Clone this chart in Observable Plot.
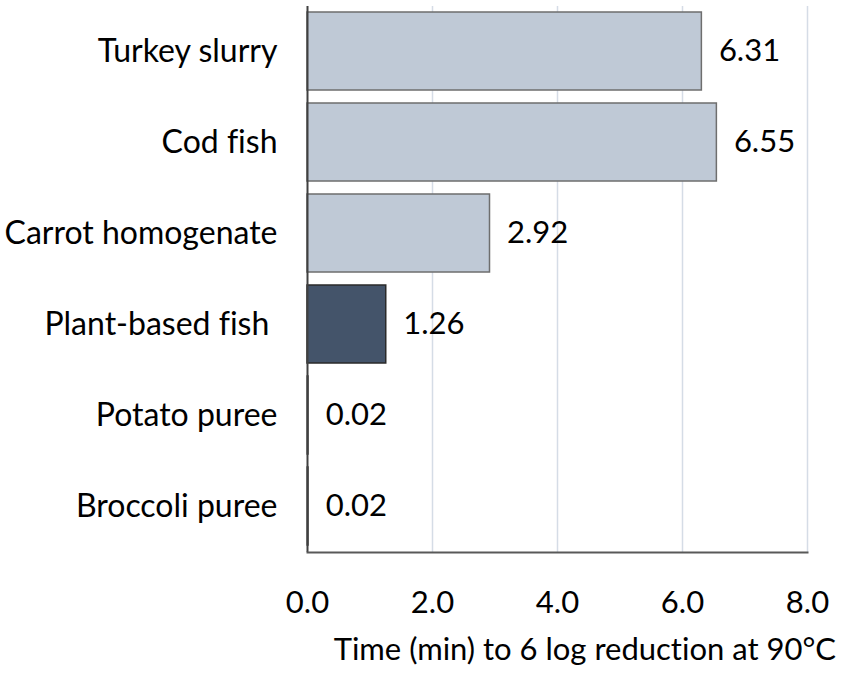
<!DOCTYPE html>
<html><head><meta charset="utf-8">
<script src="https://cdn.jsdelivr.net/npm/d3@7"></script>
<script src="https://cdn.jsdelivr.net/npm/@observablehq/plot@0.6"></script>
<style>
body{margin:0;background:#fff;font-family:Lato,sans-serif;font-variant-ligatures:none}
svg, svg text{font-variant-ligatures:none}
#title{font-family:Lato,sans-serif;font-size:31px;color:#000;text-align:right;padding-right:15px;line-height:52px;width:851px;box-sizing:border-box;margin:0;font-variant-ligatures:none}
</style>
</head><body><div id="chart"></div><div id="title"></div>
<script>
const categories = ["Turkey slurry","Cod fish","Carrot homogenate","Plant-based fish\u00a0","Potato puree","Broccoli puree"];
const values = [6.31,6.55,2.92,1.26,0.02,0.02];
const highlight = [false,false,false,true,false,false];
const xTicks = [0,2,4,6,8];
const axisTitle = "Time (min) to 6 log reduction at 90°C";
const data = categories.map((c,i)=>({category:c,value:values[i],highlight:highlight[i]}));
const plot = Plot.plot({
 width:851, height:622, marginLeft:307, marginRight:44, marginTop:6, marginBottom:70,
 style:{fontFamily:"Lato, sans-serif", fontSize:"31px", color:"#000", background:"#fff"},
 x:{domain:[0,8], ticks: xTicks, tickFormat: d3.format(".1f")},
 y:{domain:categories, paddingInner:0.14, paddingOuter:0.07},
 marks:[
  Plot.gridX(xTicks.slice(1), {stroke:"#d5dce6", strokeOpacity:1, strokeWidth:1.5}),
  Plot.barX(data,{x:"value",y:"category",fill:d=>d.highlight?"#44546a":"#bfc9d6",stroke:d=>d.highlight?"#2a2a2a":"#6e6e6e",strokeWidth:1.5}),
  Plot.text(data,{x:"value",y:"category",text:d=>d.value.toFixed(2),textAnchor:"start",dx:17,fontSize:31,fill:"#000"}),
  Plot.axisY({tickSize:0, tickPadding:30, label:null, fontSize:32}),
  Plot.axisX(xTicks, {tickSize:0, tickPadding:38, label:null, fontSize:31, tickFormat:d3.format(".1f")}),
  Plot.ruleX([0],{stroke:"#404040",strokeWidth:2}),
  Plot.frame({anchor:"bottom",stroke:"#595959",strokeWidth:2})
 ]
});
document.getElementById("chart").appendChild(plot);
document.getElementById("title").textContent = axisTitle;
</script>
</body></html>
